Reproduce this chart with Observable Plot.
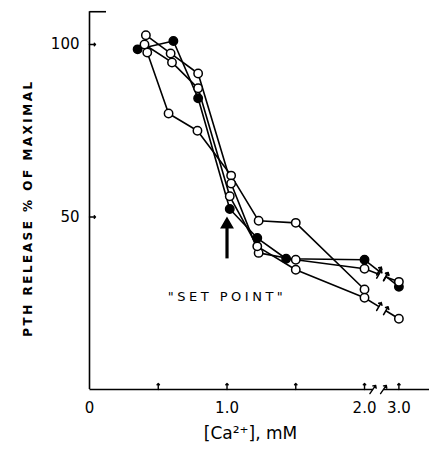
<!DOCTYPE html>
<html><head><meta charset="utf-8">
<script src="https://cdn.jsdelivr.net/npm/d3@7"></script>
<script src="https://cdn.jsdelivr.net/npm/@observablehq/plot@0.6"></script>
<style>body{margin:0;background:#fff}</style>
</head><body><div id="chart"></div>
<script>
// ---- data ----
const filledCa  = [0.35, 0.61, 0.79, 1.02, 1.22, 1.43, 2.0, 3.0];
const filledPth = [98.6, 101.0, 84.4, 52.3, 43.9, 37.9, 37.6, 29.8];

const openACa  = [0.42, 0.575, 0.785, 1.03, 1.23, 1.5, 2.0];
const openAPth = [97.7, 80.0, 75.0, 62.0, 48.9, 48.3, 29.0];

const openBCa  = [0.41, 0.59, 0.79, 1.03, 1.23, 1.5, 2.0, 3.0];
const openBPth = [102.7, 97.4, 91.6, 59.7, 39.6, 37.6, 35.0, 31.2];

const openCCa  = [0.40, 0.60, 0.79, 1.02, 1.22, 1.5, 2.0, 3.0];
const openCPth = [100.0, 94.8, 87.3, 56.0, 41.5, 34.7, 26.6, 20.5];

const xTickValues = [0.5, 1.0, 1.5, 2.0, 3.0];
const xTickLabels = [{v: 0, t: "0"}, {v: 1.0, t: "1.0"}, {v: 2.0, t: "2.0"}, {v: 3.0, t: "3.0"}];
const yTickValues = [50, 100];
const yTickLabels = ["50", "100"];
const yLabel = "PTH RELEASE % OF MAXIMAL";
const xLabel = "[Ca²⁺], mM";
const annotation = "\"SET POINT\"";
const arrowCa = 1.0;
const arrowFrom = 38;
const arrowTo = 47;
const arrowTip = 47.8;
const yAxisTop = 109.5;
const axisBreak = [2.24, 2.55];
const xAxisEnd = 3.95;

// broken axis: values above 2.0 mM are compressed (1 mM -> 0.25 display units)
const brk = c => c <= 2 ? c : 2 + (c - 2) * 0.25;

const series = [
  {name: "filled", ca: filledCa, pth: filledPth, filled: true},
  {name: "openA", ca: openACa, pth: openAPth, filled: false},
  {name: "openB", ca: openBCa, pth: openBPth, filled: false},
  {name: "openC", ca: openCCa, pth: openCPth, filled: false}
];

const rows = series.flatMap(s => s.ca.map((c, i) => ({series: s.name, ca: c, pth: s.pth[i], filled: s.filled})));
const near = rows.filter(d => d.ca <= 2.0);

// broken segments between 2.0 and 3.0
const breakSegs = [], breakMarks = [];
series.forEach(s => {
  const i2 = s.ca.indexOf(2.0), i3 = s.ca.indexOf(3.0);
  if (i2 < 0 || i3 < 0) return;
  const a = {ca: s.ca[i2], pth: s.pth[i2]}, b = {ca: s.ca[i3], pth: s.pth[i3]};
  const lerp = t => ({ca: a.ca + (b.ca - a.ca) * t, pth: a.pth + (b.pth - a.pth) * t});
  const p1 = lerp(0.42), p2 = lerp(0.62);
  breakSegs.push({x1: a.ca, y1: a.pth, x2: p1.ca, y2: p1.pth});
  breakSegs.push({x1: p2.ca, y1: p2.pth, x2: b.ca, y2: b.pth});
  breakMarks.push(p1, p2);
});

const axisSegs = [{x1: 0, x2: axisBreak[0]}, {x1: axisBreak[1], x2: xAxisEnd}];

const font = "DejaVu Sans";
const chart = Plot.plot({
  width: 429, height: 459,
  marginLeft: 89, marginRight: 0, marginTop: 10, marginBottom: 70,
  style: {background: "#fff", fontFamily: font},
  x: {type: "linear", domain: [0, 2.25], range: [89, 398.4], axis: null},
  y: {type: "linear", domain: [0, 100], range: [389, 44], axis: null},
  marks: [
    // axes
    Plot.ruleX([0], {y1: 0, y2: yAxisTop, stroke: "black", strokeWidth: 1.6}),
    Plot.link([0], {x1: 0, x2: 0.12, y1: yAxisTop, y2: yAxisTop, stroke: "black", strokeWidth: 1.6}),
    Plot.link(axisSegs, {x1: d => brk(d.x1), x2: d => brk(d.x2), y1: 0, y2: 0, stroke: "black", strokeWidth: 1.6}),
    Plot.vector(axisBreak, {x: d => brk(d), y: 0, length: 10, rotate: 35, anchor: "middle", stroke: "black", strokeWidth: 1.4}),
    Plot.vector(xTickValues, {x: d => brk(d), y: 0, length: 6, rotate: 0, anchor: "start", stroke: "black", strokeWidth: 1.4}),
    Plot.vector(yTickValues, {x: 0, y: d => d, length: 6, rotate: 90, anchor: "start", stroke: "black", strokeWidth: 1.4}),
    Plot.text(xTickLabels, {x: d => brk(d.v), y: 0, text: "t", dy: 19, fontSize: 15, fill: "black"}),
    Plot.text(yTickValues, {x: 0, y: d => d, text: (d, i) => yTickLabels[i], textAnchor: "end", dx: -10, fontSize: 15, fill: "black"}),
    Plot.text([yLabel], {frameAnchor: "left", textAnchor: "middle", rotate: -90, dx: -61, dy: 8, fontSize: 12, fontWeight: "bold", fill: "black"}),
    Plot.text([xLabel], {frameAnchor: "bottom", textAnchor: "middle", dx: -9, dy: 49, fontSize: 17, fill: "black"}),
    // data
    Plot.line(near, {x: d => brk(d.ca), y: "pth", z: "series", stroke: "black", strokeWidth: 1.6}),
    Plot.link(breakSegs, {x1: d => brk(d.x1), y1: "y1", x2: d => brk(d.x2), y2: "y2", stroke: "black", strokeWidth: 1.6}),
    Plot.vector(breakMarks, {x: d => brk(d.ca), y: "pth", length: 9, rotate: 30, anchor: "middle", stroke: "black", strokeWidth: 1.6}),
    Plot.dot(rows, {x: d => brk(d.ca), y: "pth", r: 4.2, fill: d => d.filled ? "black" : "white", stroke: "black", strokeWidth: 1.5}),
    // annotation
    Plot.link([arrowCa], {x1: d => d, x2: d => d, y1: arrowFrom, y2: arrowTo, stroke: "black", strokeWidth: 3.2}),
    Plot.dot([arrowCa], {x: d => d, y: arrowTip, symbol: "triangle", r: 4.2, fill: "black", stroke: "black"}),
    Plot.text([annotation], {x: arrowCa, y: 26.9, fontSize: 13, fill: "black"})
  ]
});
d3.select(chart).selectAll("text").filter(function() { return this.textContent === yLabel; }).style("letter-spacing", "2.5px");
d3.select(chart).selectAll("text").filter(function() { return this.textContent === annotation; }).style("letter-spacing", "3.5px");
document.getElementById("chart").append(chart);
</script>
</body></html>
